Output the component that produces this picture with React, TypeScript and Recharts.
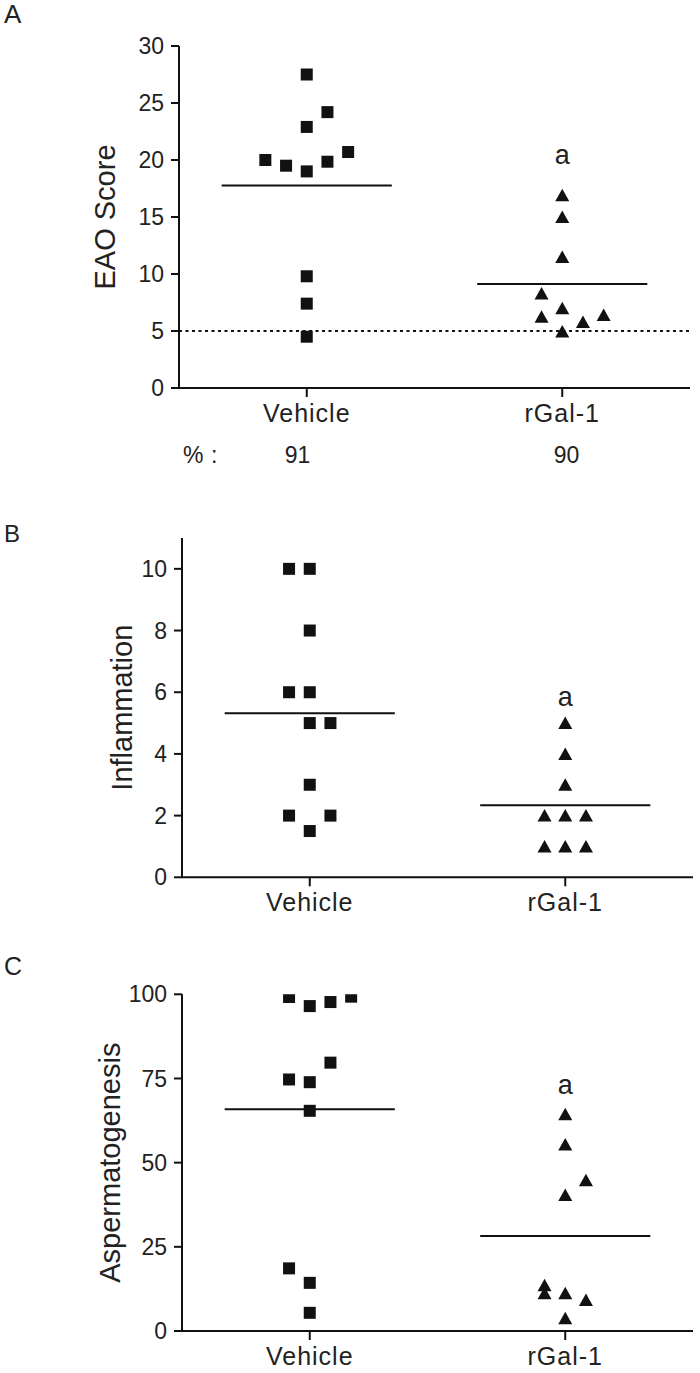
import React from 'react';
import { ScatterChart, Scatter, XAxis, YAxis, ReferenceLine } from 'recharts';

const FONT = '"Liberation Sans", Arial, sans-serif';
const INK = '#111';

const groups = ['Vehicle', 'rGal-1'];
const groupX = [0.5, 1.5];
const SLOT = 0.081;
const HALF = 0.333;

// Panel A: EAO score
const eaoVehicle = [27.5, 24.2, 22.9, 20.0, 19.5, 19.0, 19.85, 20.7, 9.8, 7.4, 4.5];
const eaoVehicleSlot = [0, 1, 0, -2, -1, 0, 1, 2, 0, 0, 0];
const eaoRgal = [16.9, 15.0, 11.5, 8.3, 6.25, 7.0, 5.8, 6.4, 4.95];
const eaoRgalSlot = [0, 0, 0, -1, -1, 0, 1, 2, 0];
const eaoThreshold = 5;
const eaoTicks = [0, 5, 10, 15, 20, 25, 30];
const eaoSigY = 20.3;
const incidence = ['91', '90'];

// Panel B: Inflammation
const inflVehicle = [10, 10, 8, 6, 6, 5, 5, 3, 2, 2, 1.5];
const inflVehicleSlot = [-1, 0, 0, -1, 0, 0, 1, 0, -1, 1, 0];
const inflRgal = [5, 4, 3, 2, 2, 2, 1, 1, 1];
const inflRgalSlot = [0, 0, 0, -1, 0, 1, -1, 0, 1];
const inflTicks = [0, 2, 4, 6, 8, 10];
const inflSigY = 5.78;

// Panel C: Aspermatogenesis
const aspVehicle = [99.2, 96.5, 97.7, 99.3, 79.7, 74.7, 73.9, 65.4, 18.6, 14.3, 5.4];
const aspVehicleSlot = [-1, 0, 1, 2, 1, -1, 0, 0, -1, 0, 0];
const aspRgal = [64.4, 55.4, 44.8, 40.4, 13.6, 11.2, 11.2, 9.2, 3.8];
const aspRgalSlot = [0, 0, 1, 0, -1, -1, 0, 1, 0];
const aspTicks = [0, 25, 50, 75, 100];
const aspSigY = 72.6;

const toPoints = (vals: number[], slots: number[], g: number) =>
  vals.map((v, i) => ({ x: groupX[g] + slots[i] * SLOT, y: v }));
const mean = (vals: number[]) => vals.reduce((a, b) => a + b, 0) / vals.length;

const Square = (p: any) => <rect x={p.cx - 6} y={p.cy - 6} width={12} height={12} fill={INK} />;
const Triangle = (p: any) => (
  <path d={`M${p.cx},${p.cy - 6.5} L${p.cx + 7},${p.cy + 6} L${p.cx - 7},${p.cy + 6} Z`} fill={INK} />
);
const SigMark = (p: any) => (
  <text x={p.cx} y={p.cy + 7} textAnchor="middle" fontSize={27} fill="#222" fontFamily={FONT}>a</text>
);

type PanelProps = {
  top: number;
  mTop: number;
  plotH: number;
  yWidth: number;
  mRight: number;
  yDomain: [number, number];
  yTicks: number[];
  yLabel: string;
  labelDx: number;
  vehicle: number[];
  vehicleSlot: number[];
  rgal: number[];
  rgalSlot: number[];
  sigY: number;
  threshold?: number;
};

function Panel(props: PanelProps) {
  const { top, mTop, plotH, yWidth, mRight, yDomain, yTicks, yLabel, labelDx,
    vehicle, vehicleSlot, rgal, rgalSlot, sigY, threshold } = props;
  const xAxisH = 40;
  const h = mTop + plotH + xAxisH;
  const mV = mean(vehicle);
  const mR = mean(rgal);
  return (
    <div style={{ position: 'absolute', left: 0, top }}>
      <ScatterChart width={700} height={h} margin={{ top: mTop, right: mRight, bottom: 0, left: 0 }}>
        <XAxis
          type="number"
          dataKey="x"
          domain={[0, 2]}
          ticks={groupX}
          tickFormatter={(v: number) => groups[groupX.indexOf(v)] ?? ''}
          height={xAxisH}
          axisLine={{ stroke: INK, strokeWidth: 2 }}
          tickLine={{ stroke: INK, strokeWidth: 2 }}
          tickSize={9}
          tickMargin={7}
          tick={{ fontSize: 25, fill: '#222', fontFamily: FONT, letterSpacing: 1 }}
          allowDataOverflow
        />
        <YAxis
          type="number"
          dataKey="y"
          domain={yDomain}
          ticks={yTicks}
          width={yWidth}
          axisLine={{ stroke: INK, strokeWidth: 2 }}
          tickLine={{ stroke: INK, strokeWidth: 2 }}
          tickSize={8}
          tickMargin={7}
          tick={{ fontSize: 23, fill: '#222', fontFamily: FONT }}
          allowDataOverflow
          label={{ value: yLabel, angle: -90, position: 'center', dx: labelDx, fontSize: 29, fill: '#222', fontFamily: FONT }}
        />
        {threshold !== undefined && (
          <ReferenceLine y={threshold} stroke={INK} strokeWidth={2} strokeDasharray="3 3.5" />
        )}
        <ReferenceLine
          segment={[{ x: groupX[0] - HALF, y: mV }, { x: groupX[0] + HALF, y: mV }]}
          stroke={INK}
          strokeWidth={2}
        />
        <ReferenceLine
          segment={[{ x: groupX[1] - HALF, y: mR }, { x: groupX[1] + HALF, y: mR }]}
          stroke={INK}
          strokeWidth={2}
        />
        <Scatter data={toPoints(vehicle, vehicleSlot, 0)} shape={Square} isAnimationActive={false} />
        <Scatter data={toPoints(rgal, rgalSlot, 1)} shape={Triangle} isAnimationActive={false} />
        <Scatter data={[{ x: groupX[1], y: sigY }]} shape={SigMark} isAnimationActive={false} />
      </ScatterChart>
    </div>
  );
}

export default function App() {
  return (
    <div style={{ position: 'absolute', left: 0, top: 0, width: 700, height: 1373, background: '#fff', fontFamily: FONT }}>
      <Panel
        top={0}
        mTop={46}
        plotH={342}
        yWidth={179}
        mRight={10}
        yDomain={[0, 30]}
        yTicks={eaoTicks}
        yLabel="EAO Score"
        labelDx={15.5}
        vehicle={eaoVehicle}
        vehicleSlot={eaoVehicleSlot}
        rgal={eaoRgal}
        rgalSlot={eaoRgalSlot}
        sigY={eaoSigY}
        threshold={eaoThreshold}
      />
      <Panel
        top={480}
        mTop={58}
        plotH={339.3}
        yWidth={182}
        mRight={7}
        yDomain={[0, 11]}
        yTicks={inflTicks}
        yLabel="Inflammation"
        labelDx={31}
        vehicle={inflVehicle}
        vehicleSlot={inflVehicleSlot}
        rgal={inflRgal}
        rgalSlot={inflRgalSlot}
        sigY={inflSigY}
      />
      <Panel
        top={940}
        mTop={54.3}
        plotH={336.7}
        yWidth={182}
        mRight={7}
        yDomain={[0, 100]}
        yTicks={aspTicks}
        yLabel="Aspermatogenesis"
        labelDx={19}
        vehicle={aspVehicle}
        vehicleSlot={aspVehicleSlot}
        rgal={aspRgal}
        rgalSlot={aspRgalSlot}
        sigY={aspSigY}
      />
      <svg width={700} height={1373} style={{ position: 'absolute', left: 0, top: 0, pointerEvents: 'none' }}>
        <g fontFamily={FONT} fill="#222">
          <text x={4} y={23} fontSize={26}>A</text>
          <text x={4} y={542} fontSize={24}>B</text>
          <text x={4} y={975} fontSize={25}>C</text>
          <text x={183} y={463} fontSize={23}>%</text>
          <text x={211} y={463} fontSize={23}>:</text>
          <text x={297.5} y={463} fontSize={23} textAnchor="middle">{incidence[0]}</text>
          <text x={566.5} y={463} fontSize={23} textAnchor="middle">{incidence[1]}</text>
        </g>
      </svg>
    </div>
  );
}
